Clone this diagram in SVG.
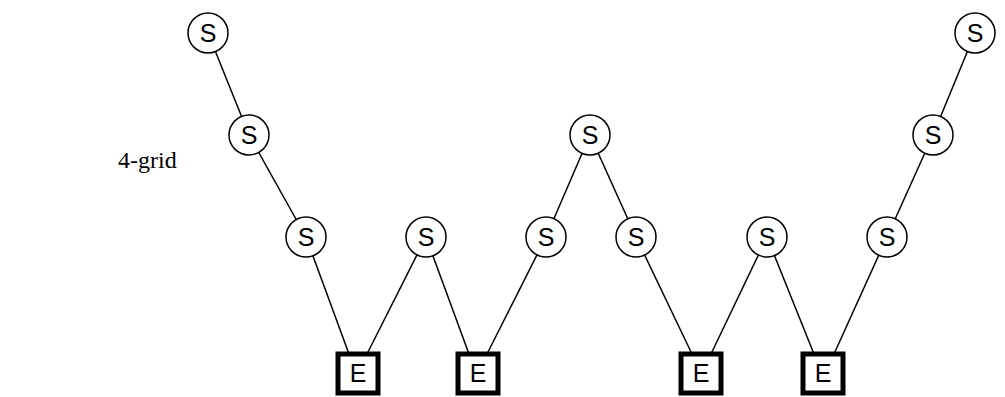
<svg xmlns="http://www.w3.org/2000/svg" width="1005" height="397" viewBox="0 0 1005 397">
<style>
.s circle{fill:#fff;stroke:#000;stroke-width:1.5}
.e rect{fill:#fff;stroke:#000;stroke-width:5}
.lbl{font-family:"Liberation Sans",Arial,sans-serif;font-size:25px;text-anchor:middle;fill:#000}
.cap{font-family:"Liberation Serif","Times New Roman",serif;font-size:24px;fill:#000}
#edges line{stroke:#000;stroke-width:1.5}
</style>
<rect width="1005" height="397" fill="#fff"/>
<text class="cap" x="118" y="168">4-grid</text>
<g id="edges">
<line x1="208" y1="33" x2="249" y2="135"/>
<line x1="249" y1="135" x2="306" y2="237"/>
<line x1="306" y1="237" x2="349" y2="354"/>
<line x1="426" y1="237" x2="367" y2="354"/>
<line x1="426" y1="237" x2="469" y2="354"/>
<line x1="546" y1="237" x2="487" y2="354"/>
<line x1="546" y1="237" x2="590" y2="135"/>
<line x1="590" y1="135" x2="636" y2="237"/>
<line x1="636" y1="237" x2="692" y2="354"/>
<line x1="767" y1="237" x2="711" y2="354"/>
<line x1="767" y1="237" x2="814" y2="354"/>
<line x1="887" y1="237" x2="834" y2="354"/>
<line x1="887" y1="237" x2="933" y2="135"/>
<line x1="933" y1="135" x2="975" y2="33"/>
</g>
<g id="s1" class="s"><circle cx="208" cy="33" r="20"/><text class="lbl" x="208" y="42">S</text></g>
<g id="s2" class="s"><circle cx="249" cy="135" r="20"/><text class="lbl" x="249" y="144">S</text></g>
<g id="s3" class="s"><circle cx="306" cy="237" r="20"/><text class="lbl" x="306" y="246">S</text></g>
<g id="s4" class="s"><circle cx="426" cy="237" r="20"/><text class="lbl" x="426" y="246">S</text></g>
<g id="s5" class="s"><circle cx="546" cy="237" r="20"/><text class="lbl" x="546" y="246">S</text></g>
<g id="s6" class="s"><circle cx="590" cy="135" r="20"/><text class="lbl" x="590" y="144">S</text></g>
<g id="s7" class="s"><circle cx="636" cy="237" r="20"/><text class="lbl" x="636" y="246">S</text></g>
<g id="s8" class="s"><circle cx="767" cy="237" r="20"/><text class="lbl" x="767" y="246">S</text></g>
<g id="s9" class="s"><circle cx="887" cy="237" r="20"/><text class="lbl" x="887" y="246">S</text></g>
<g id="s10" class="s"><circle cx="933" cy="135" r="20"/><text class="lbl" x="933" y="144">S</text></g>
<g id="s11" class="s"><circle cx="975" cy="33" r="20"/><text class="lbl" x="975" y="42">S</text></g>
<g id="e1" class="e"><rect x="338" y="354" width="40" height="39"/><text class="lbl" x="358" y="382">E</text></g>
<g id="e2" class="e"><rect x="458" y="354" width="40" height="39"/><text class="lbl" x="478" y="382">E</text></g>
<g id="e3" class="e"><rect x="681" y="354" width="40" height="39"/><text class="lbl" x="701" y="382">E</text></g>
<g id="e4" class="e"><rect x="803" y="354" width="40" height="39"/><text class="lbl" x="823" y="382">E</text></g>
</svg>
